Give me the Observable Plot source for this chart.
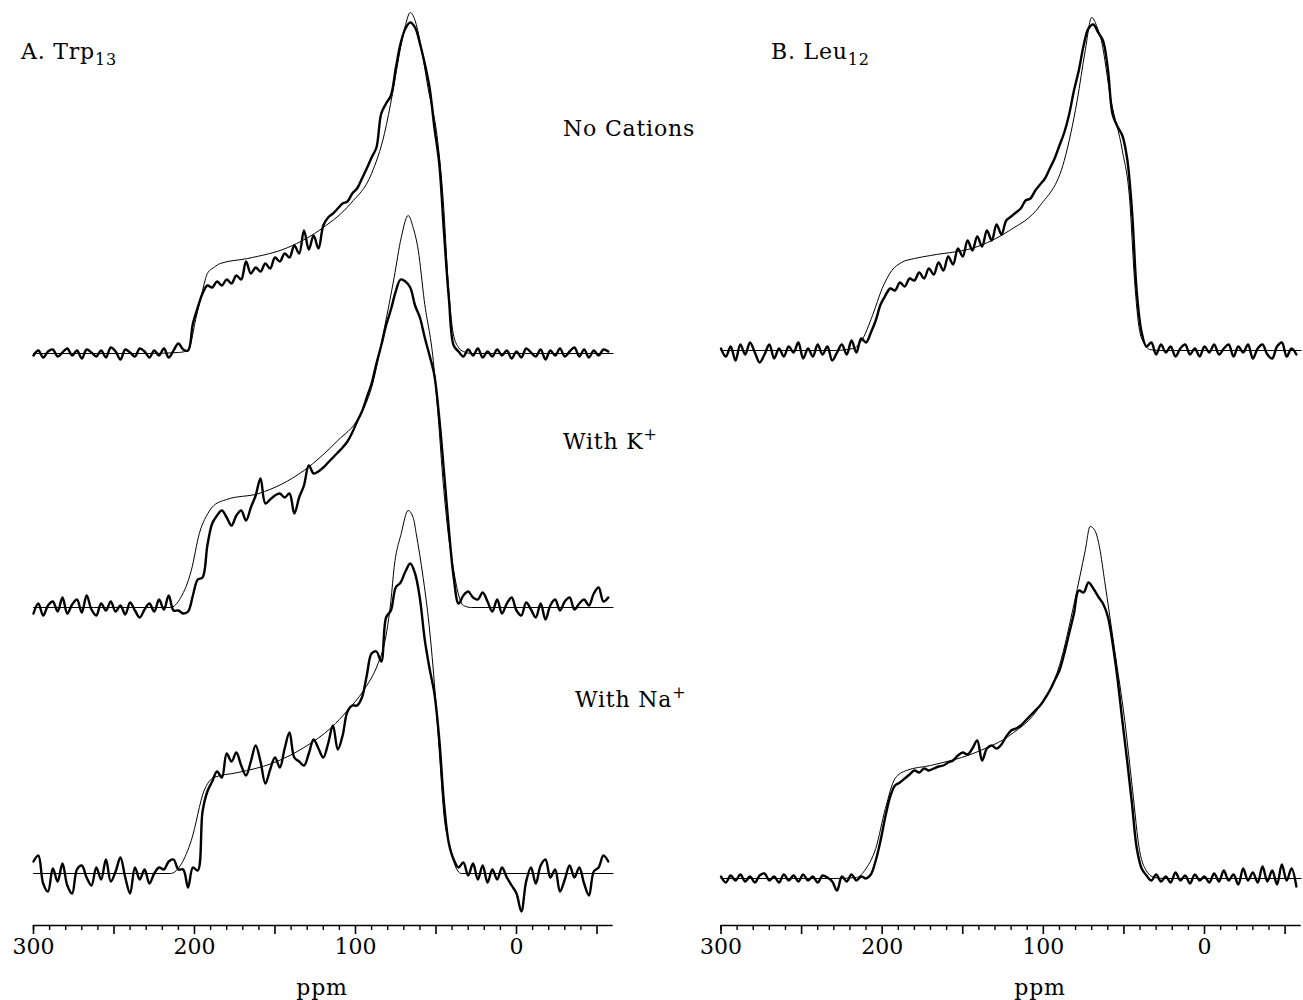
<!DOCTYPE html>
<html><head><meta charset="utf-8">
<script src="https://cdn.jsdelivr.net/npm/d3@7"></script>
<script src="https://cdn.jsdelivr.net/npm/@observablehq/plot@0.6"></script>
<style>
html,body{margin:0;padding:0;background:#fff;}
#page{position:relative;width:1303px;height:1000px;overflow:hidden;background:#fff;}
#left{position:absolute;left:0;top:0;}
#right{position:absolute;left:700px;top:0;}
</style></head>
<body><div id="page"><div id="left"></div><div id="right"></div></div>
<script>
// ---- chemical shift sampling grid (ppm) for the experimental spectra ----
const gridPpm = [300,297,294,291,288,285,282,279,276,273,270,267,264,261,258,255,252,249,246,243,240,237,234,231,228,225,222,219,216,213,210,207,204,201,198,195,192,189,186,183,180,177,174,171,168,165,162,159,156,153,150,147,144,141,138,135,132,129,126,123,120,117,114,111,108,105,102,99,96,93,90,87,84,81,78,75,72,69,66,63,60,57,54,51,48,45,42,39,36,33,30,27,24,21,18,15,12,9,6,3,0,-3,-6,-9,-12,-15,-18,-21,-24,-27,-30,-33,-36,-39,-42,-45,-48,-51,-54,-57];

// ---- A. Trp13 experimental intensities (arbitrary units) ----
const trpNone = [-2,3,-4,2,4,-3,1,5,-2,3, -5,4,1,-3,3,-4,6,2,-6,4, 1,-3,5,2,-4,3,-2,5,-4,3, 10,4,3,30,46,60,68,66,72,68, 74,70,78,74,92,80,86,82,90,85, 96,92,100,96,108,100,123,104,118,105, 128,136,140,145,150,152,160,165,175,185, 196,206,240,250,258,285,310,325,331,326, 310,290,266,226,190,120,55,8,2,-3, 4,-2,5,-4,2,-3,4,-2,3,-5, 2,-4,5,1,-3,4,-6,3,-2,5, -3,2,6,-3,4,-4,3,-2,4,2];
const trpK = [-6,4,-8,2,6,-4,10,-6,3,8, -5,12,-2,-8,4,-3,6,-4,2,-7, 5,-3,-10,-2,4,-4,8,-2,12,-3, -3,-6,-4,12,28,30,62,84,92,97, 90,82,92,97,87,100,112,129,104,108, 112,114,110,114,94,110,122,142,134,136, 140,145,150,155,160,166,175,186,196,210, 224,244,262,282,298,316,328,326,320,302, 290,270,252,232,190,135,78,30,4,12, 16,10,8,15,6,-4,8,-6,4,10, -3,-8,5,-2,-10,4,-12,2,8,-3, 6,10,-2,4,8,2,14,20,6,10];
const trpNa = [12,18,-10,-18,5,-8,10,-12,-20,4, 8,-4,-12,6,-6,14,-8,2,16,-4, -20,6,-6,4,-10,0,6,4,12,14, 4,4,-14,6,3,62,82,92,102,96, 120,112,121,108,98,112,128,112,90,104, 116,106,125,141,116,112,108,120,134,125, 116,130,148,124,138,162,168,168,176,198, 220,222,212,256,263,286,291,302,310,300, 275,234,205,180,135,70,30,14,6,11, -2,10,-6,8,-9,4,-6,6,-4,-12, -20,-38,-8,6,-10,8,14,-4,4,-18, -6,8,-4,6,-10,-22,2,6,18,12];

// ---- A. Trp13 simulated powder patterns ----
const fitNonePpm = [300,230,210,204,199,195,192,188,184,167,142,120,103,90,82,77,72,69,66,63,60,55,49,45.5,42.4,39.3,36,33,28,-60];
const fitNoneVal = [0,0,1,3,36,63,80,86,90,95,106,126,150,180,220,260,306,328,341,333,313,266,213,153,70,20,6,2,0,0];
const fitKPpm = [300,225,215,208.5,202,197,191.7,188,180,160,132,111,98,90,82,76,71.6,67.3,64.2,61,57.3,51.7,48.6,45.5,42.4,39.3,36.2,33,28,-60];
const fitKVal = [0,0,0,10,37,74,94,102,108,114,137,167,190,220,280,330,370,392,380,357,307,247,190,124,74,40,14,2,0,0];
const fitNaPpm = [300,215,208,202,194,188,173,152,132,115,105,95,86,82,78,76,71.6,67.3,64,62.3,58,54.8,51,48,44.9,41.8,38.6,34.3,-60];
const fitNaVal = [0,0,10,33,83,96,101,110,126,146,163,183,210,230,273,306,340,363,355,340,296,256,190,123,56,30,10,0,0];

// ---- B. Leu12 experimental intensities ----
const leuNone = [2,-6,4,-10,6,-4,8,-2,-12,-4, 6,-8,2,-6,4,-2,8,-8,2,-6, 6,-4,4,-10,-2,6,-4,10,-2,12, 8,18,30,46,55,62,60,68,64,72, 70,78,72,82,76,88,80,94,86,102, 94,110,100,114,104,120,110,126,116,130, 134,138,142,150,152,160,166,172,182,192, 205,218,236,260,280,305,322,326,318,310, 282,236,224,215,192,140,58,18,4,8, -4,6,-2,4,-6,2,6,-4,2,-6, 4,-2,6,-4,2,6,-6,4,-2,6, -8,2,6,-4,-8,4,8,-6,2,-4];
const leuNa = [2,-4,3,-2,4,-3,2,-4,3,5, -2,2,-4,4,-2,3,-3,4,-2,2, -4,3,1,-3,-12,2,-3,4,-2,2, 0,4,18,38,62,82,93,96,100,104, 108,106,110,108,110,112,113,116,118,123, 126,124,130,138,118,130,133,130,134,142, 148,150,153,158,163,168,173,180,188,198, 208,225,245,265,288,286,296,290,282,275, 262,235,200,158,118,75,30,10,3,-2, 4,-3,2,-4,6,-2,3,-5,4,-2, 2,-4,5,-3,8,-2,4,-6,10,-2, 6,-4,12,-3,8,-6,14,-2,10,-8];

// ---- B. Leu12 simulated powder patterns ----
const fitLeuNonePpm = [300,230,218,212,206,200,194,188,180,170,139,121,102,87,79,74,70,67,64,58,51,46.4,43.4,40.3,37,34,28,-60];
const fitLeuNoneVal = [0,0,2,12,35,62,80,88,92,95,105,120,145,190,250,300,333,325,310,250,200,150,70,20,6,1,0,0];
const fitLeuNaPpm = [300,230,216,210,204,198,192,185,170,139,121,102,90,80.5,74,71,68,65,62,55.7,49.5,44.6,40.3,35.3,31,25,-60];
const fitLeuNaVal = [0,0,1,10,30,70,100,108,113,128,143,173,213,278,328,352,348,330,298,228,158,88,28,6,1,0,0];

// ---- axis ticks ----
const minorTicks = [300,290,280,270,260,240,230,220,210,190,180,170,160,140,130,120,110,90,80,70,60,40,30,20,10,-10,-20,-30,-40];
const majorTicks = [300,250,200,150,100,50,0,-50];
const labelTicks = [300,200,100,0];

// ---------------- drawing ----------------
const FONT = "DejaVu Serif";
const FS = 22;

function expRows(vals, off, key) { return gridPpm.map((p, i) => ({ppm: p, y: vals[i] + off, key})); }
function fitRows(ppm, vals, off, key) { return ppm.map((p, i) => ({ppm: p, y: vals[i] + off, key})); }

function panel({width, marginLeft, marginRight, exp, fit}) {
  return Plot.plot({
    width, height: 1000, marginLeft, marginRight, marginTop: 0, marginBottom: 75,
    style: {background: "transparent", overflow: "visible"},
    x: {domain: [300, -60], label: null},
    y: {domain: [0, 925], axis: null},
    marks: [
      Plot.line(fit, {x: "ppm", y: "y", z: "key", curve: "monotone-x", stroke: "#000", strokeWidth: 1}),
      Plot.line(exp, {x: "ppm", y: "y", z: "key", curve: "catmull-rom", stroke: "#000", strokeWidth: 2.4, strokeLinejoin: "round"}),
      Plot.ruleY([0], {stroke: "#000", strokeWidth: 1.6}),
      Plot.axisX(minorTicks, {tickSize: 5, tickFormat: () => "", label: null, strokeWidth: 1.4}),
      Plot.axisX(majorTicks, {tickSize: 9, tickFormat: () => "", label: null, strokeWidth: 1.6}),
      Plot.axisX(labelTicks, {tickSize: 0, tickPadding: 13, label: null, fontSize: FS, fontFamily: FONT, fill: "#000"})
    ]
  });
}

function addText(svg, x, y, parts, anchor) {
  const t = d3.select(svg).append("text")
    .attr("x", x).attr("y", y)
    .attr("font-family", FONT).attr("font-size", FS)
    .attr("letter-spacing", "0.8px")
    .attr("text-anchor", anchor || "start").attr("fill", "#000");
  parts.forEach(p => {
    const s = t.append("tspan").text(p.t);
    if (p.sub) s.attr("font-size", 16).attr("dy", 6);
    if (p.sup) s.attr("font-size", 16).attr("dy", -9);
  });
}

const OFF_A = [572, 318, 52];
const OFF_B = [575, 47];

const left = panel({
  width: 700, marginLeft: 33, marginRight: 87.4,
  exp: [...expRows(trpNone, OFF_A[0], "none"), ...expRows(trpK, OFF_A[1], "k"), ...expRows(trpNa, OFF_A[2], "na")],
  fit: [...fitRows(fitNonePpm, fitNoneVal, OFF_A[0], "none"), ...fitRows(fitKPpm, fitKVal, OFF_A[1], "k"), ...fitRows(fitNaPpm, fitNaVal, OFF_A[2], "na")]
});
addText(left, 21, 59, [{t: "A. Trp"}, {t: "13", sub: true}]);
addText(left, 563, 136, [{t: "No Cations"}]);
addText(left, 563, 449, [{t: "With K"}, {t: "+", sup: true}]);
addText(left, 575, 707, [{t: "With Na"}, {t: "+", sup: true}]);
addText(left, 322, 995, [{t: "ppm"}], "middle");
document.getElementById("left").appendChild(left);

const right = panel({
  width: 603, marginLeft: 20.5, marginRight: 2.3,
  exp: [...expRows(leuNone, OFF_B[0], "none"), ...expRows(leuNa, OFF_B[1], "na")],
  fit: [...fitRows(fitLeuNonePpm, fitLeuNoneVal, OFF_B[0], "none"), ...fitRows(fitLeuNaPpm, fitLeuNaVal, OFF_B[1], "na")]
});
addText(right, 71, 59, [{t: "B. Leu"}, {t: "12", sub: true}]);
addText(right, 340, 995, [{t: "ppm"}], "middle");
document.getElementById("right").appendChild(right);
</script>
</body></html>
